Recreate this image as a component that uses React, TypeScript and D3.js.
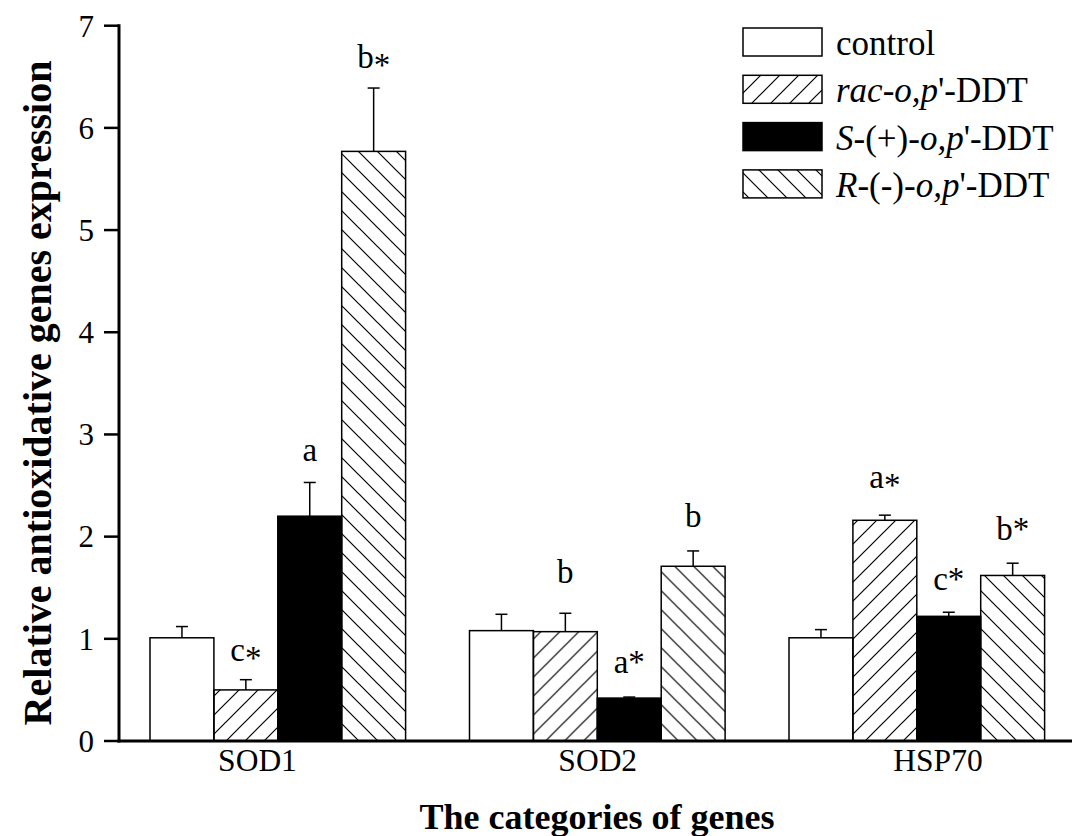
import React from "react";
import * as d3 from "d3";

const categories = ["SOD1", "SOD2", "HSP70"];
const seriesKeys = ["control", "rac", "S", "R"];

const controlMeans = [1.01, 1.08, 1.01];
const controlErr = [0.11, 0.16, 0.08];
const racMeans = [0.5, 1.07, 2.16];
const racErr = [0.1, 0.18, 0.05];
const sMeans = [2.2, 0.42, 1.22];
const sErr = [0.33, 0.01, 0.04];
const rMeans = [5.77, 1.71, 1.62];
const rErr = [0.62, 0.15, 0.12];

// "∗" marks a lowered asterisk, "*" a normal one
const controlSig = ["", "", ""];
const racSig = ["c∗", "b", "a∗"];
const sSig = ["a", "a*", "c*"];
const rSig = ["b∗", "b", "b*"];

// vertical position (in data units) of the significance letters' baselines
const controlSigY = [0, 0, 0];
const racSigY = [0.78, 1.55, 2.48];
const sSigY = [2.74, 0.67, 1.48];
const rSigY = [6.59, 2.09, 1.97];

const yTicks = [0, 1, 2, 3, 4, 5, 6, 7];

const W = 1072;
const H = 836;
const FONT = "'Liberation Serif', 'Times New Roman', serif";

const series = [
  { key: "control", means: controlMeans, err: controlErr, sig: controlSig, sigY: controlSigY, fill: "#fff" },
  { key: "rac", means: racMeans, err: racErr, sig: racSig, sigY: racSigY, fill: "url(#hatchFwd)" },
  { key: "S", means: sMeans, err: sErr, sig: sSig, sigY: sSigY, fill: "#000" },
  { key: "R", means: rMeans, err: rErr, sig: rSig, sigY: rSigY, fill: "url(#hatchBack)" },
];

function SigText({ x, y, label }: { x: number; y: number; label: string }) {
  if (!label) return null;
  const letter = label[0];
  const star = label.slice(1);
  return (
    <text x={x} y={y} textAnchor="middle" fontFamily={FONT} fontSize={33}>
      <tspan>{letter}</tspan>
      {star === "∗" && <tspan dy={8}>*</tspan>}
      {star === "*" && <tspan>*</tspan>}
    </text>
  );
}

export default function App() {
  const axisX = 119;
  const baseY = 741;
  const topY = 25.7;

  const y = d3.scaleLinear().domain([0, 7]).range([baseY, topY]);
  const x0 = d3
    .scaleBand<string>()
    .domain(categories)
    .range([axisX, 1075.6])
    .paddingInner(0.2)
    .paddingOuter(0.097);
  const x1 = d3.scaleBand<string>().domain(seriesKeys).range([0, x0.bandwidth()]);
  const tickX = d3.scalePoint<string>().domain(categories).range([257.5, 938]);

  const legendItems = [
    { key: "control", fill: "#fff" },
    { key: "rac", fill: "url(#hatchFwd)" },
    { key: "S", fill: "#000" },
    { key: "R", fill: "url(#hatchBack)" },
  ];
  const legendX = 743;
  const legendY0 = 28;
  const legendStep = 47.3;

  const legendLabel = (k: string) => {
    if (k === "control") return <tspan>control</tspan>;
    if (k === "rac")
      return (
        <>
          <tspan fontStyle="italic">rac</tspan>
          <tspan>-</tspan>
          <tspan fontStyle="italic">o,p</tspan>
          <tspan>'-DDT</tspan>
        </>
      );
    if (k === "S")
      return (
        <>
          <tspan fontStyle="italic">S</tspan>
          <tspan>-(+)-</tspan>
          <tspan fontStyle="italic">o,p</tspan>
          <tspan>'-DDT</tspan>
        </>
      );
    return (
      <>
        <tspan fontStyle="italic">R</tspan>
        <tspan>-(-)-</tspan>
        <tspan fontStyle="italic">o,p</tspan>
        <tspan>'-DDT</tspan>
      </>
    );
  };

  return (
    <svg
      width={W}
      height={H}
      viewBox={`0 0 ${W} ${H}`}
      style={{ position: "absolute", left: 0, top: 0, background: "#fff" }}
    >
      <defs>
        <pattern id="hatchFwd" patternUnits="userSpaceOnUse" width={19} height={19}>
          <path d="M0,19 L19,0 M-5,5 L5,-5 M14,24 L24,14" stroke="#000" strokeWidth={1.2} />
        </pattern>
        <pattern id="hatchBack" patternUnits="userSpaceOnUse" width={19} height={19}>
          <path d="M0,0 L19,19 M-5,14 L5,24 M14,-5 L24,5" stroke="#000" strokeWidth={1.2} />
        </pattern>
      </defs>
      <rect x={0} y={0} width={W} height={H} fill="#fff" />

      {/* bars */}
      {categories.map((c, ci) => (
        <g key={c} transform={`translate(${x0(c)},0)`}>
          {series.map((s) => {
            const bx = x1(s.key)!;
            const bw = x1.bandwidth();
            const top = y(s.means[ci]);
            const errTop = y(s.means[ci] + s.err[ci]);
            const cx = bx + bw / 2;
            return (
              <g key={s.key}>
                <line x1={cx} x2={cx} y1={top} y2={errTop} stroke="#000" strokeWidth={1.5} />
                <line x1={cx - 6} x2={cx + 6} y1={errTop} y2={errTop} stroke="#000" strokeWidth={1.5} />
                <rect
                  x={bx}
                  y={top}
                  width={bw}
                  height={baseY - top}
                  fill={s.fill}
                  stroke="#000"
                  strokeWidth={1.5}
                />
                <SigText x={cx} y={y(s.sigY[ci])} label={s.sig[ci]} />
              </g>
            );
          })}
        </g>
      ))}

      {/* y axis */}
      <line x1={axisX} x2={axisX} y1={topY - 1.5} y2={baseY + 1.5} stroke="#000" strokeWidth={3} />
      {yTicks.map((t) => (
        <g key={t}>
          <line x1={axisX - 15} x2={axisX} y1={y(t)} y2={y(t)} stroke="#000" strokeWidth={2.5} />
          <text x={94} y={y(t)} dy="0.35em" textAnchor="end" fontFamily={FONT} fontSize={31}>
            {t}
          </text>
        </g>
      ))}

      {/* x axis */}
      <line x1={axisX - 1.5} x2={W} y1={baseY} y2={baseY} stroke="#000" strokeWidth={3} />
      {categories.map((c) => (
        <text key={c} x={tickX(c)} y={771} textAnchor="middle" fontFamily={FONT} fontSize={31.5}>
          {c}
        </text>
      ))}

      {/* axis titles */}
      <text x={597} y={829} textAnchor="middle" fontFamily={FONT} fontWeight="bold" fontSize={36}>
        The categories of genes
      </text>
      <text
        transform={`translate(51,${393}) rotate(-90)`}
        textAnchor="middle"
        fontFamily={FONT}
        fontWeight="bold"
        fontSize={40}
      >
        Relative antioxidative genes expression
      </text>

      {/* legend */}
      {legendItems.map((it, i) => {
        const ly = legendY0 + i * legendStep;
        return (
          <g key={it.key}>
            <rect x={legendX} y={ly} width={79} height={28} fill={it.fill} stroke="#000" strokeWidth={1.5} />
            <text x={836} y={ly + 27} fontFamily={FONT} fontSize={35}>
              {legendLabel(it.key)}
            </text>
          </g>
        );
      })}
    </svg>
  );
}
